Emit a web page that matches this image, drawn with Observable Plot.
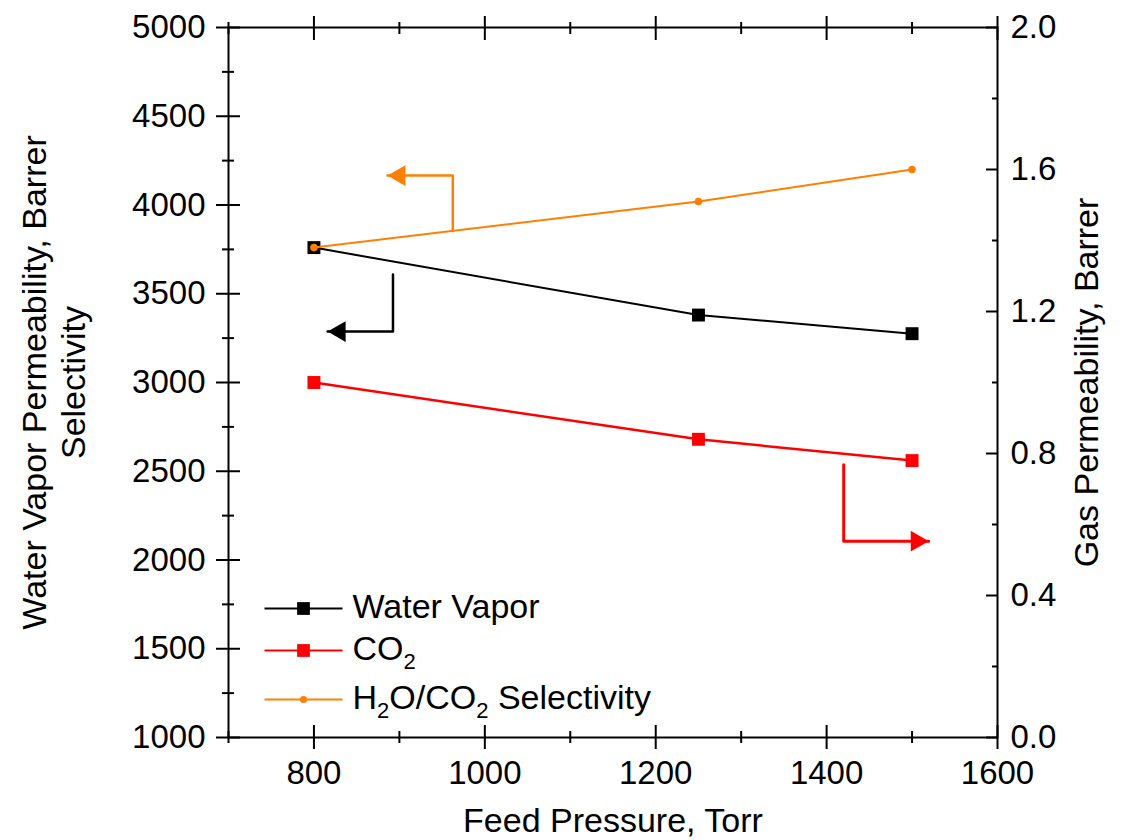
<!DOCTYPE html>
<html>
<head>
<meta charset="utf-8">
<script src="https://cdn.jsdelivr.net/npm/d3@7"></script>
<script src="https://cdn.jsdelivr.net/npm/@observablehq/plot@0.6"></script>
<style>
  html, body { margin: 0; padding: 0; background: #fff; overflow: hidden; }
  #chart svg { display: block; }
</style>
</head>
<body>
<div id="chart"></div>
<script>
// ---------------- data ----------------
const pressure    = [800, 1250, 1500];          // Torr
const waterVapor  = [3760, 3380, 3275];         // Barrer (left axis)
const co2         = [1.00, 0.84, 0.78];         // Barrer (right axis)
const selectivity = [3760, 4020, 4200];         // H2O/CO2 selectivity (left axis)

const seriesNames = ["Water Vapor", "CO2", "H2O/CO2 Selectivity"];

const xMajor      = [800, 1000, 1200, 1400, 1600];
const xMinor      = [700, 900, 1100, 1300, 1500];
const yLeftMajor  = [1000, 1500, 2000, 2500, 3000, 3500, 4000, 4500, 5000];
const yLeftMinor  = [1250, 1750, 2250, 2750, 3250, 3750, 4250, 4750];
const yRightMajor = [0.0, 0.4, 0.8, 1.2, 1.6, 2.0];
const yRightMinor = [0.2, 0.6, 1.0, 1.4, 1.8];

// annotation arrows (data units): shaft points, last point = arrow tip
const arrowSelectivity = [[962.5, 3854], [962.5, 4166], [886, 4166]];     // left axis
const arrowWater       = [[892.5, 3608], [892.5, 3287], [816, 3287]];     // left axis
const arrowCO2         = [[1420, 0.768], [1420, 0.553], [1519.5, 0.553]]; // right axis

// ---------------- layout / style ----------------
const W = 1122, H = 840;
const M = {top: 27, right: 125, bottom: 103, left: 228};
const xDomain = [700, 1600], yDomain = [1000, 5000], rDomain = [0, 2];
const toLeft = v => yDomain[0] + (v - rDomain[0]) / (rDomain[1] - rDomain[0]) * (yDomain[1] - yDomain[0]);
const fromLeft = v => rDomain[0] + (v - yDomain[0]) / (yDomain[1] - yDomain[0]) * (rDomain[1] - rDomain[0]);
// pixel -> data helpers for legend placement
const invX = px => xDomain[0] + (px - M.left) / (W - M.left - M.right) * (xDomain[1] - xDomain[0]);
const invY = py => yDomain[1] - (py - M.top) / (H - M.top - M.bottom) * (yDomain[1] - yDomain[0]);

const ORANGE = "#ff8000", RED = "#ff0000", BLACK = "#000000";
const FONT = "'Liberation Sans', Arial, Helvetica, sans-serif";

const rows = pressure.map((p, i) => ({p, wv: waterVapor[i], co2: toLeft(co2[i]), sel: selectivity[i]}));

const pts = a => a.map(([x, y]) => ({x, y}));
const selArrow = pts(arrowSelectivity);
const wvArrow = pts(arrowWater);
const co2Arrow = pts(arrowCO2.map(([x, y]) => [x, toLeft(y)]));
const tip = a => [a[a.length - 1]];

// legend rows
const legendRowsPx = [608, 650, 699];
const legend = seriesNames.map((name, i) => ({
  name,
  x1: invX(264), x2: invX(342), xm: invX(303), xt: invX(352),
  y: invY(legendRowsPx[i]),
  color: [BLACK, RED, ORANGE][i],
  square: i < 2
}));
const legendSquares = legend.filter(d => d.square);
const legendCircles = legend.filter(d => !d.square);

const noText = () => "";
const tickAxis = (ticks, anchor, size, offset) => {
  const o = {anchor, tickSize: size, stroke: BLACK, strokeWidth: 2, tickFormat: noText, label: null};
  if (anchor === "left" || anchor === "right") o.dx = offset; else o.dy = offset;
  return (anchor === "left" || anchor === "right") ? Plot.axisY(ticks, o) : Plot.axisX(ticks, o);
};

const chart = Plot.plot({
  width: W, height: H,
  marginTop: M.top, marginRight: M.right, marginBottom: M.bottom, marginLeft: M.left,
  style: {fontFamily: FONT, fontSize: "33px", color: "black", background: "white"},
  x: {domain: xDomain},
  y: {domain: yDomain},
  marks: [
    // tick marks
    tickAxis(xMajor, "bottom", 24, -12),
    tickAxis(xMinor, "bottom", 12, -6),
    tickAxis(xMajor, "top", 24, 12),
    tickAxis(xMinor, "top", 12, 6),
    tickAxis(yLeftMajor, "left", 24, 12),
    tickAxis(yLeftMinor, "left", 12, 6),
    tickAxis(yRightMajor.map(toLeft), "right", 12, -12),
    tickAxis(yRightMinor.map(toLeft), "right", 6, -6),
    // tick labels
    Plot.axisX(xMajor, {anchor: "bottom", tickSize: 0, tickPadding: 23, fontSize: 33, tickFormat: d => String(d), label: null}),
    Plot.axisY(yLeftMajor, {anchor: "left", tickSize: 0, tickPadding: 23, fontSize: 33, tickFormat: d => String(d), label: null}),
    Plot.axisY(yRightMajor.map(toLeft), {anchor: "right", tickSize: 0, tickPadding: 13, fontSize: 33, tickFormat: d => fromLeft(d).toFixed(1), label: null}),
    Plot.frame({stroke: BLACK, strokeWidth: 2}),
    // axis titles
    Plot.text(["Feed Pressure, Torr"], {text: d => d, frameAnchor: "bottom", textAnchor: "middle", dy: 84, lineAnchor: "middle", fontSize: 34}),
    Plot.text(["Water Vapor Permeability, Barrer"], {text: d => d, frameAnchor: "left", textAnchor: "middle", rotate: -90, dx: -193, lineAnchor: "middle", fontSize: 34}),
    Plot.text(["Selectivity"], {text: d => d, frameAnchor: "left", textAnchor: "middle", rotate: -90, dx: -154, lineAnchor: "middle", fontSize: 34}),
    Plot.text(["Gas Permeability, Barrer"], {text: d => d, frameAnchor: "right", textAnchor: "middle", rotate: -90, dx: 90, lineAnchor: "middle", fontSize: 34}),
    // annotation arrows
    Plot.line(selArrow, {x: "x", y: "y", stroke: ORANGE, strokeWidth: 2.5}),
    Plot.dot(tip(selArrow), {x: "x", y: "y", symbol: "triangle", r: 7.7, rotate: -90, dx: 12, fill: ORANGE, stroke: "none"}),
    Plot.line(wvArrow, {x: "x", y: "y", stroke: BLACK, strokeWidth: 2.5}),
    Plot.dot(tip(wvArrow), {x: "x", y: "y", symbol: "triangle", r: 7.7, rotate: -90, dx: 12, fill: BLACK, stroke: "none"}),
    Plot.line(co2Arrow, {x: "x", y: "y", stroke: RED, strokeWidth: 3}),
    Plot.dot(tip(co2Arrow), {x: "x", y: "y", symbol: "triangle", r: 7.7, rotate: 90, dx: -12, fill: RED, stroke: "none"}),
    // series
    Plot.line(rows, {x: "p", y: "wv", stroke: BLACK, strokeWidth: 2}),
    Plot.dot(rows, {x: "p", y: "wv", symbol: "square", r: 7.3, fill: BLACK, stroke: "none"}),
    Plot.line(rows, {x: "p", y: "co2", stroke: RED, strokeWidth: 2.5}),
    Plot.dot(rows, {x: "p", y: "co2", symbol: "square", r: 7.3, fill: RED, stroke: "none"}),
    Plot.line(rows, {x: "p", y: "sel", stroke: ORANGE, strokeWidth: 2}),
    Plot.dot(rows, {x: "p", y: "sel", symbol: "circle", r: 3.8, fill: ORANGE, stroke: "none"}),
    // legend
    Plot.link(legend, {x1: "x1", x2: "x2", y1: "y", y2: "y", stroke: d => d.color, strokeWidth: 2}),
    Plot.dot(legendSquares, {x: "xm", y: "y", symbol: "square", r: 7.2, fill: d => d.color, stroke: "none"}),
    Plot.dot(legendCircles, {x: "xm", y: "y", symbol: "circle", r: 3.6, fill: d => d.color, stroke: "none"}),
    Plot.text(legend, {x: "xt", y: "y", text: "name", textAnchor: "start", lineAnchor: "middle", fontSize: 34, dy: -1, fill: BLACK})
  ]
});

// subscripts for chemical formulas
chart.querySelectorAll("text").forEach(el => {
  const s = el.textContent;
  if (!/^(CO2|H2O\/CO2)/.test(s)) return;
  const parts = s.split(/(2)/);
  el.textContent = "";
  let shifted = false;
  parts.forEach(p => {
    if (p === "") return;
    const t = document.createElementNS("http://www.w3.org/2000/svg", "tspan");
    t.textContent = p;
    if (p === "2") { t.setAttribute("font-size", "22"); t.setAttribute("dy", "9"); shifted = true; }
    else if (shifted) { t.setAttribute("dy", "-9"); shifted = false; }
    el.appendChild(t);
  });
});

document.getElementById("chart").appendChild(chart);
</script>
</body>
</html>
